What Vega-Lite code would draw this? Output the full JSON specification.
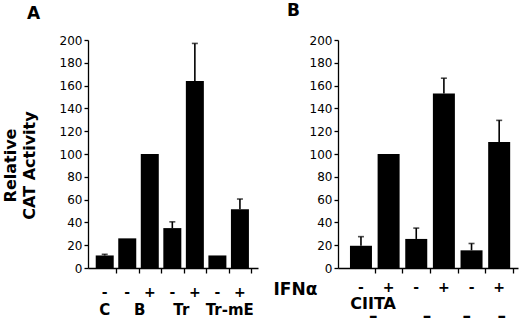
{
  "$schema": "https://vega.github.io/schema/vega-lite/v6.json",
  "autosize": {"type": "none"},
  "padding": {"left": 88, "top": 40, "right": 432, "bottom": 278},
  "background": "white",
  "spacing": 80,
  "bounds": "flush",
  "config": {
    "view": {"stroke": null},
    "font": "DejaVu Sans",
    "axis": {
      "domainColor": "black", "tickColor": "black", "labelColor": "black", "titleColor": "black",
      "grid": false, "labelFont": "DejaVu Sans", "labelFontSize": 12, "domainWidth": 1.3, "tickWidth": 1.3,
      "labelOverlap": false
    },
    "title": {"font": "DejaVu Sans", "fontSize": 17, "fontWeight": "bold", "color": "black", "anchor": "start", "baseline": "alphabetic", "frame": "group"}
  },
  "datasets": {
    "barsA": [
      {"pos": 1, "ifn": "-", "value": 11, "err": 12},
      {"pos": 2, "ifn": "-", "value": 26, "err": null},
      {"pos": 3, "ifn": "+", "value": 100, "err": null},
      {"pos": 4, "ifn": "-", "value": 35, "err": 40.5},
      {"pos": 5, "ifn": "+", "value": 164, "err": 197},
      {"pos": 6, "ifn": "-", "value": 11, "err": null},
      {"pos": 7, "ifn": "+", "value": 51.5, "err": 60.5}
    ],
    "groupsA": [
      {"pos": 1, "label": "C"},
      {"pos": 2.55, "label": "B"},
      {"pos": 4.4, "label": "Tr"},
      {"pos": 6.55, "label": "Tr-mE"}
    ],
    "barsB": [
      {"pos": 1, "ifn": "-", "value": 19.5, "err": 27.5},
      {"pos": 2, "ifn": "+", "value": 100, "err": null},
      {"pos": 3, "ifn": "-", "value": 25.5, "err": 35},
      {"pos": 4, "ifn": "+", "value": 153, "err": 166.5},
      {"pos": 5, "ifn": "-", "value": 15.5, "err": 21.5},
      {"pos": 6, "ifn": "+", "value": 110.5, "err": 129.5}
    ],
    "labelsB": [
      {"pos": -1.37, "label": "IFNα", "row": "ifn"},
      {"pos": 1.44, "label": "CIITA", "row": "ciita"},
      {"pos": 1.44, "label": "–", "row": "dash"},
      {"pos": 3.39, "label": "–", "row": "dash"},
      {"pos": 4.83, "label": "–", "row": "dash"},
      {"pos": 6.09, "label": "–", "row": "dash"}
    ]
  },
  "hconcat": [
    {
      "width": 170,
      "height": 228,
      "title": {"text": "A", "dx": -61, "offset": 11},
      "encoding": {
        "x": {"field": "pos", "type": "quantitative",
          "scale": {"domain": [0.48, 7.58], "nice": false, "zero": false},
          "axis": {"values": [1.5, 2.5, 3.5, 4.5, 5.5, 6.5, 7.5], "labels": false, "tickSize": 5, "title": null}}
      },
      "layer": [
        {
          "data": {"name": "barsA"},
          "mark": {"type": "bar", "color": "black", "size": 18},
          "encoding": {
            "y": {"field": "value", "type": "quantitative",
              "scale": {"domain": [0, 200], "nice": false},
              "axis": {"values": [0, 20, 40, 60, 80, 100, 120, 140, 160, 180, 200], "tickSize": 4, "labelPadding": 2,
                "labelOverlap": false,
                "title": ["Relative", "CAT Activity"], "titleFontSize": 16, "titleFontWeight": "bold", "titleFont": "DejaVu Sans",
                "titleLineHeight": 19, "titlePadding": 22, "titleY": 125}}
          }
        },
        {
          "data": {"name": "barsA"},
          "transform": [{"filter": "isValid(datum.err)"}],
          "mark": {"type": "rule", "color": "black", "strokeWidth": 1.6},
          "encoding": {
            "y": {"field": "value", "type": "quantitative", "scale": {"domain": [0, 200], "nice": false},
              "axis": {"values": [0, 20, 40, 60, 80, 100, 120, 140, 160, 180, 200], "tickSize": 4, "labelPadding": 2,
                "labelOverlap": false,
                "title": ["Relative", "CAT Activity"], "titleFontSize": 16, "titleFontWeight": "bold", "titleFont": "DejaVu Sans",
                "titleLineHeight": 19, "titlePadding": 22, "titleY": 125}},
            "y2": {"field": "err"}
          }
        },
        {
          "data": {"name": "barsA"},
          "transform": [{"filter": "isValid(datum.err)"}],
          "mark": {"type": "tick", "orient": "horizontal", "color": "black", "size": 6, "thickness": 1.6},
          "encoding": {
            "y": {"field": "err", "type": "quantitative", "scale": {"domain": [0, 200], "nice": false},
              "axis": {"values": [0, 20, 40, 60, 80, 100, 120, 140, 160, 180, 200], "tickSize": 4, "labelPadding": 2,
                "labelOverlap": false,
                "title": ["Relative", "CAT Activity"], "titleFontSize": 16, "titleFontWeight": "bold", "titleFont": "DejaVu Sans",
                "titleLineHeight": 19, "titlePadding": 22, "titleY": 125}}
          }
        },
        {
          "data": {"name": "barsA"},
          "mark": {"type": "text", "fontSize": 14, "fontWeight": "bold", "color": "black", "clip": false},
          "encoding": {
            "y": {"datum": -22, "type": "quantitative", "scale": {"domain": [0, 200], "nice": false},
              "axis": {"values": [0, 20, 40, 60, 80, 100, 120, 140, 160, 180, 200], "tickSize": 4, "labelPadding": 2,
                "labelOverlap": false,
                "title": ["Relative", "CAT Activity"], "titleFontSize": 16, "titleFontWeight": "bold", "titleFont": "DejaVu Sans",
                "titleLineHeight": 19, "titlePadding": 22, "titleY": 125}},
            "text": {"field": "ifn"}
          }
        },
        {
          "data": {"name": "groupsA"},
          "mark": {"type": "text", "fontSize": 15, "fontWeight": "bold", "color": "black", "clip": false},
          "encoding": {
            "y": {"datum": -37, "type": "quantitative", "scale": {"domain": [0, 200], "nice": false},
              "axis": {"values": [0, 20, 40, 60, 80, 100, 120, 140, 160, 180, 200], "tickSize": 4, "labelPadding": 2,
                "labelOverlap": false,
                "title": ["Relative", "CAT Activity"], "titleFontSize": 16, "titleFontWeight": "bold", "titleFont": "DejaVu Sans",
                "titleLineHeight": 19, "titlePadding": 22, "titleY": 125}},
            "text": {"field": "label"}
          }
        }
      ]
    },
    {
      "width": 180,
      "height": 228,
      "title": {"text": "B", "dx": -51, "offset": 14},
      "encoding": {
        "x": {"field": "pos", "type": "quantitative",
          "scale": {"domain": [0.35, 6.5], "nice": false, "zero": false},
          "axis": {"values": [1.5, 2.5, 3.5, 4.5, 5.5, 6.5], "labels": false, "tickSize": 5, "title": null}}
      },
      "layer": [
        {
          "data": {"name": "barsB"},
          "mark": {"type": "bar", "color": "black", "size": 22},
          "encoding": {
            "y": {"field": "value", "type": "quantitative", "scale": {"domain": [0, 200], "nice": false},
              "axis": {"values": [0, 20, 40, 60, 80, 100, 120, 140, 160, 180, 200], "tickSize": 4, "labelPadding": 2, "labelOverlap": false, "title": null}}
          }
        },
        {
          "data": {"name": "barsB"},
          "transform": [{"filter": "isValid(datum.err)"}],
          "mark": {"type": "rule", "color": "black", "strokeWidth": 1.6},
          "encoding": {
            "y": {"field": "value", "type": "quantitative", "scale": {"domain": [0, 200], "nice": false},
              "axis": {"values": [0, 20, 40, 60, 80, 100, 120, 140, 160, 180, 200], "tickSize": 4, "labelPadding": 2, "labelOverlap": false, "title": null}},
            "y2": {"field": "err"}
          }
        },
        {
          "data": {"name": "barsB"},
          "transform": [{"filter": "isValid(datum.err)"}],
          "mark": {"type": "tick", "orient": "horizontal", "color": "black", "size": 6, "thickness": 1.6},
          "encoding": {
            "y": {"field": "err", "type": "quantitative", "scale": {"domain": [0, 200], "nice": false},
              "axis": {"values": [0, 20, 40, 60, 80, 100, 120, 140, 160, 180, 200], "tickSize": 4, "labelPadding": 2, "labelOverlap": false, "title": null}}
          }
        },
        {
          "data": {"name": "barsB"},
          "mark": {"type": "text", "fontSize": 14, "fontWeight": "bold", "color": "black", "clip": false},
          "encoding": {
            "y": {"datum": -17.5, "type": "quantitative", "scale": {"domain": [0, 200], "nice": false},
              "axis": {"values": [0, 20, 40, 60, 80, 100, 120, 140, 160, 180, 200], "tickSize": 4, "labelPadding": 2, "labelOverlap": false, "title": null}},
            "text": {"field": "ifn"}
          }
        },
        {
          "data": {"name": "labelsB"},
          "transform": [{"filter": "datum.row === 'ifn'"}],
          "mark": {"type": "text", "fontSize": 17, "fontWeight": "bold", "color": "black", "clip": false},
          "encoding": {
            "y": {"datum": -19.3, "type": "quantitative", "scale": {"domain": [0, 200], "nice": false},
              "axis": {"values": [0, 20, 40, 60, 80, 100, 120, 140, 160, 180, 200], "tickSize": 4, "labelPadding": 2, "labelOverlap": false, "title": null}},
            "text": {"field": "label"}
          }
        },
        {
          "data": {"name": "labelsB"},
          "transform": [{"filter": "datum.row === 'ciita'"}],
          "mark": {"type": "text", "fontSize": 16, "fontWeight": "bold", "color": "black", "clip": false},
          "encoding": {
            "y": {"datum": -32, "type": "quantitative", "scale": {"domain": [0, 200], "nice": false},
              "axis": {"values": [0, 20, 40, 60, 80, 100, 120, 140, 160, 180, 200], "tickSize": 4, "labelPadding": 2, "labelOverlap": false, "title": null}},
            "text": {"field": "label"}
          }
        },
        {
          "data": {"name": "labelsB"},
          "transform": [{"filter": "datum.row === 'dash'"}],
          "mark": {"type": "text", "fontSize": 17, "fontWeight": "bold", "color": "black", "clip": false},
          "encoding": {
            "y": {"datum": -43.4, "type": "quantitative", "scale": {"domain": [0, 200], "nice": false},
              "axis": {"values": [0, 20, 40, 60, 80, 100, 120, 140, 160, 180, 200], "tickSize": 4, "labelPadding": 2, "labelOverlap": false, "title": null}},
            "text": {"field": "label"}
          }
        }
      ]
    }
  ]
}
